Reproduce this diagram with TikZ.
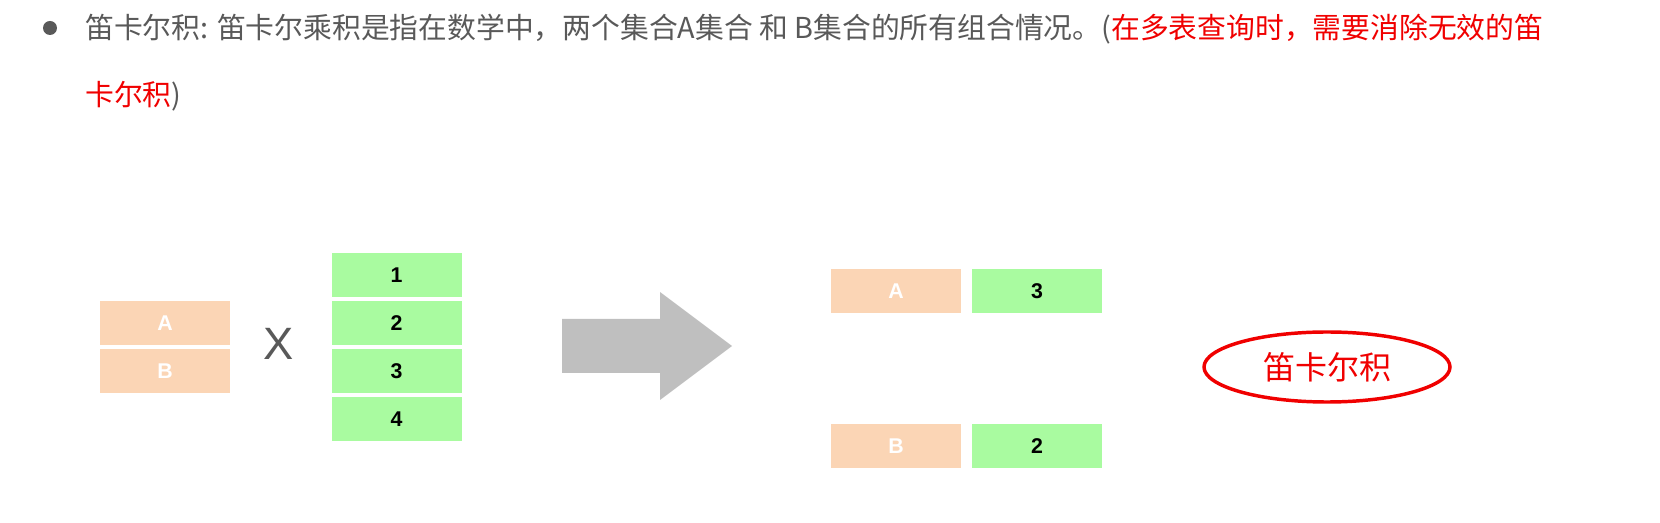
\documentclass[tikz,border=0pt]{standalone}
\usepackage{xcolor}
\usepackage{fontspec}
\setmainfont{Liberation Sans}
\newfontfamily\cjkfont{Noto Sans CJK SC}
\usepackage{tikz}
\usetikzlibrary{shapes.geometric}

\definecolor{setAfill}{RGB}{251,213,181}
\definecolor{setBfill}{RGB}{169,251,160}
\definecolor{textgray}{RGB}{89,89,89}
\definecolor{arrowgray}{RGB}{191,191,191}
\definecolor{notered}{RGB}{240,0,0}

\tikzset{
  cellA/.style={fill=setAfill, minimum width=97.5pt, minimum height=33pt, inner sep=0pt, text=white, font=\fontsize{16}{19}\selectfont\bfseries},
  cellB/.style={fill=setBfill, minimum width=97.5pt, minimum height=33pt, inner sep=0pt, text=black, font=\fontsize{16}{19}\selectfont\bfseries},
  headline/.style={anchor=west, inner sep=0.75pt, align=left, text=textgray, font=\cjkfont\fontsize{21.6}{26}\selectfont},
}

\begin{document}
\begin{tikzpicture}[x=0.75pt,y=0.75pt,yscale=-1,xscale=1]
\useasboundingbox (0,0) rectangle (1660,523);

%Shape: Circle [bullet]
\fill [textgray] (50,28) circle [radius=7];
% Text Node
\node [headline] (line1) at (84,29) {笛卡尔积: 笛卡尔乘积是指在数学中，两个集合A集合 和 B集合的所有组合情况。(\textcolor{notered}{在多表查询时，需要消除无效的笛}};
% Text Node
\node [headline] (line2) at (84,96) {\textcolor{notered}{卡尔积})};

%Shape: Rectangle [set A]
\node [cellA] (a1) at (165,323) {A};
\node [cellA] (a2) at (165,371) {B};

% Text Node
\node [text=textgray, font=\fontsize{34}{40}\selectfont] (times) at (279,344) {X};

%Shape: Rectangle [set B]
\node [cellB] (b1) at (396.5,275) {1};
\node [cellB] (b2) at (396.5,323) {2};
\node [cellB] (b3) at (396.5,371) {3};
\node [cellB] (b4) at (396.5,419) {4};

%Shape: Right Arrow
\fill [arrowgray] (562,319) -- (660,319) -- (660,292) -- (732,346) -- (660,400) -- (660,373) -- (562,373) -- cycle ;

%Shape: Rectangle [result]
\node [cellA] (r1a) at (896,291) {A};
\node [cellB] (r1b) at (1037,291) {3};
\node [cellA] (r2a) at (896,446) {B};
\node [cellB] (r2b) at (1037,446) {2};

%Shape: Ellipse
\node [ellipse, draw=notered, line width=2.6pt, minimum width=184.5pt, minimum height=52.5pt, text=notered, font=\cjkfont\fontsize{24}{28}\selectfont] (cart) at (1327,367) {笛卡尔积};

\end{tikzpicture}
\end{document}
